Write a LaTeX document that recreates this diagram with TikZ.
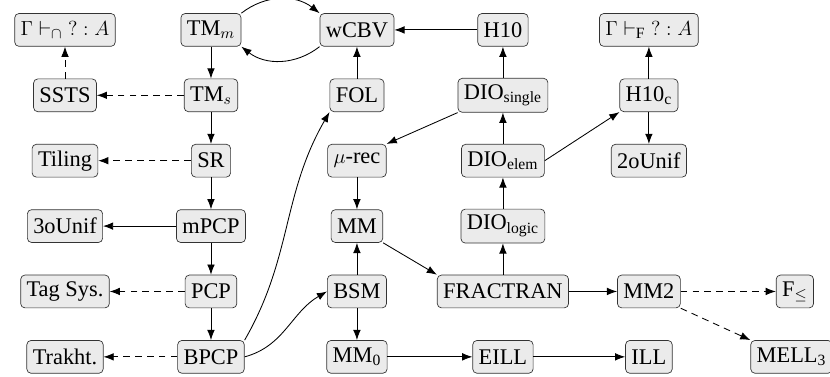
\documentclass[tikz,border=0pt]{standalone}
\usepackage{fontspec}
\setmainfont{Liberation Serif}
\usetikzlibrary{calc,arrows.meta}

\begin{document}
\begin{tikzpicture}[>={Latex[length=6pt,width=4.5pt]}, node distance=1.355cm]
        \tikzstyle{b} = [rectangle, rounded corners=2.5pt, text centered,
                         draw=black!80, fill=black!8, minimum height=0.68cm,
                         inner sep=3.5pt, font=\fontsize{13.2}{15}\selectfont]
        \tikzstyle{e} = [->, line width=0.5pt]
        \tikzstyle{d} = [->, line width=0.5pt, dash pattern=on 4pt off 3pt]

        \useasboundingbox (0,0) rectangle (17.2,7.81);

        % top row
        \node(cap)   [b] at (1.347,7.19)  {$\Gamma \vdash_\cap {?} : A$};
        \node(tmm)   [b, right of=cap, xshift=1.67cm]  {TM$_m$};
        \node(wcbv)  [b, right of=tmm, xshift=1.67cm]  {wCBV};
        \node(hten)  [b, right of=wcbv, xshift=1.67cm] {H10};
        \node(capf)  [b, right of=hten, xshift=1.67cm] {$\Gamma \vdash_{\mathrm{F}} {?} : A$};

        % first column
        \node(ssts)  [b, below of=cap]     {SSTS};
        \node(tiling)[b, below of=ssts]    {Tiling};
        \node(tunif) [b, below of=tiling]  {3oUnif};
        \node(tag)   [b, below of=tunif]   {Tag Sys.};
        \node(trak)  [b, below of=tag]     {Trakht.};

        % second column
        \node(tms)   [b, below of=tmm]     {TM$_s$};
        \node(sr)    [b, below of=tms]     {SR};
        \node(mpcp)  [b, below of=sr]      {mPCP};
        \node(pcp)   [b, below of=mpcp]    {PCP};
        \node(bpcp)  [b, below of=pcp]     {BPCP};

        % third column
        \node(fol)   [b, below of=wcbv]    {FOL};
        \node(murec) [b, below of=fol]     {$\mu$-rec};
        \node(mm)    [b, below of=murec]   {MM};
        \node(bsm)   [b, below of=mm]      {BSM};
        \node(mmz)   [b, below of=bsm]     {MM\textsubscript{0}};

        % fourth column
        \node(dsing) [b, below of=hten]    {DIO\textsubscript{single}};
        \node(delem) [b, below of=dsing]   {DIO\textsubscript{elem}};
        \node(dlog)  [b, below of=delem]   {DIO\textsubscript{logic}};
        \node(frac)  [b, below of=dlog]    {FRACTRAN};
        \node(eill)  [b, below of=frac]    {EILL};

        % fifth column
        \node(htenc) [b, below of=capf]    {H10\textsubscript{c}};
        \node(sunif) [b, below of=htenc]   {2oUnif};
        \node(mmtwo) [b, right of=frac, xshift=1.67cm] {MM2};
        \node(ill)   [b, right of=eill, xshift=1.67cm] {ILL};
        \node(fle)   [b, right of=mmtwo, xshift=1.67cm] {F$_\leq$};
        \node(mell)  [b, right of=ill, xshift=1.6cm]  {MELL\textsubscript{3}};

        \draw[d] (ssts) -- (cap);
        \draw[d] (tms) -- (ssts);
        \draw[e] (tmm) -- (tms);
        \draw[e] (tmm.north east) to[bend left=38] (wcbv.north west);
        \draw[e] (wcbv.south west) to[bend left=38] (tmm.south east);
        \draw[e] (tms) -- (sr);
        \draw[d] (sr) -- (tiling);
        \draw[e] (sr) -- (mpcp);
        \draw[e] (mpcp) -- (tunif);
        \draw[e] (mpcp) -- (pcp);
        \draw[d] (pcp) -- (tag);
        \draw[e] (pcp) -- (bpcp);
        \draw[d] (bpcp) -- (trak);
        \draw[e] (bpcp.north east) to[out=60, in=-120] (fol.south west);
        \draw[e] (bpcp.east) to[out=15, in=-150] (bsm.west);
        \draw[e] (fol) -- (wcbv);
        \draw[e] (hten) -- (wcbv);
        \draw[e] (dsing) -- (hten);
        \draw[e] (dsing.south west) -- (murec.north east);
        \draw[e] (delem) -- (dsing);
        \draw[e] (delem.east) -- (htenc.south west);
        \draw[e] (htenc) -- (capf);
        \draw[e] (htenc) -- (sunif);
        \draw[e] (murec) -- (mm);
        \draw[e] (dlog) -- (delem);
        \draw[e] (frac) -- (dlog);
        \draw[e] (mm.south east) -- (frac.north west);
        \draw[e] (bsm) -- (mm);
        \draw[e] (bsm) -- (mmz);
        \draw[e] (frac) -- (mmtwo);
        \draw[d] (mmtwo) -- (fle);
        \draw[d] (mmtwo.south east) -- (mell.north west);
        \draw[e] (mmz) -- (eill);
        \draw[e] (eill) -- (ill);
      \end{tikzpicture}
\end{document}
